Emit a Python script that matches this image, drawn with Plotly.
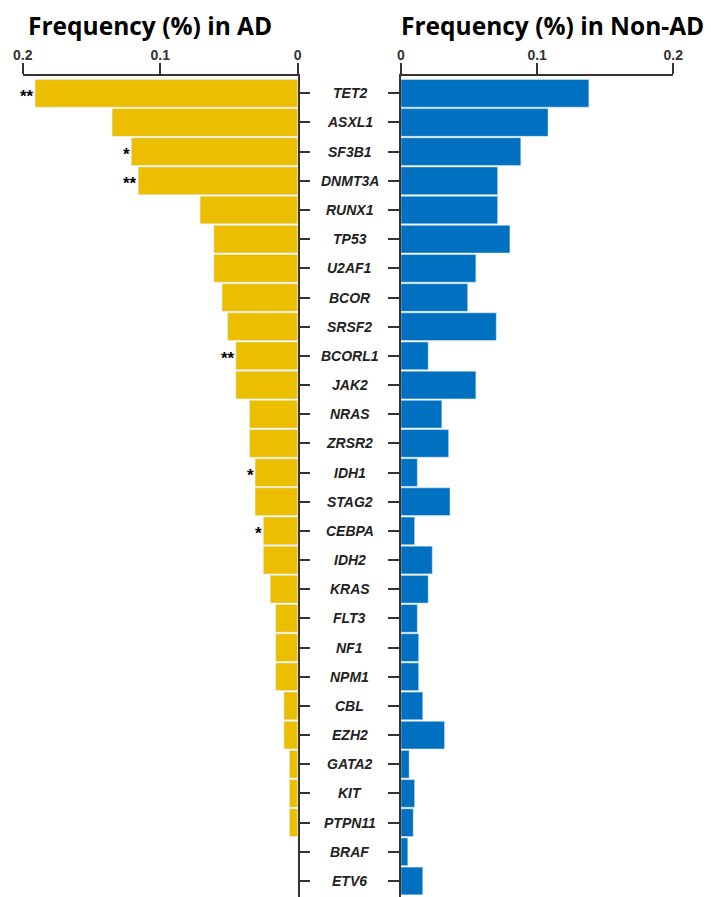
import plotly.graph_objects as go

# Genes, top to bottom
genes = ["TET2", "ASXL1", "SF3B1", "DNMT3A", "RUNX1", "TP53", "U2AF1", "BCOR",
         "SRSF2", "BCORL1", "JAK2", "NRAS", "ZRSR2", "IDH1", "STAG2", "CEBPA",
         "IDH2", "KRAS", "FLT3", "NF1", "NPM1", "CBL", "EZH2", "GATA2", "KIT",
         "PTPN11", "BRAF", "ETV6"]

# Mutation frequency in AD cases
freq_ad = [0.191, 0.135, 0.121, 0.116, 0.071, 0.061, 0.061, 0.055,
           0.051, 0.045, 0.045, 0.035, 0.035, 0.031, 0.031, 0.025,
           0.025, 0.020, 0.016, 0.016, 0.016, 0.010, 0.010, 0.006, 0.006,
           0.006, 0.0, 0.0]

# Mutation frequency in non-AD cases
freq_non_ad = [0.138, 0.108, 0.088, 0.071, 0.071, 0.080, 0.055, 0.049,
               0.070, 0.020, 0.055, 0.030, 0.035, 0.012, 0.036, 0.010,
               0.023, 0.020, 0.012, 0.013, 0.013, 0.016, 0.032, 0.006, 0.010,
               0.009, 0.005, 0.016]

# Significance marks shown beside AD bars
sig_marks = {"TET2": "**", "SF3B1": "*", "DNMT3A": "**", "BCORL1": "**",
             "IDH1": "*", "CEBPA": "*"}

axis_ticks = [0, 0.1, 0.2]
axis_ticktext = ["0", "0.1", "0.2"]

YELLOW = "#EBBE00"
BLUE = "#0070C0"
AXIS = "#333333"

W, H = 711, 897
TOP = 76

fig = go.Figure()
fig.add_trace(go.Bar(x=freq_ad, y=genes, orientation="h", marker_color=YELLOW,
                     xaxis="x", yaxis="y", showlegend=False))
fig.add_trace(go.Bar(x=freq_non_ad, y=genes, orientation="h", marker_color=BLUE,
                     xaxis="x2", yaxis="y2", showlegend=False))

common_x = dict(side="top", tickmode="array", tickvals=axis_ticks,
                ticktext=["<b>" + t + "</b>" for t in axis_ticktext],
                ticks="outside", ticklen=11, ticklabelstandoff=-2,
                tickwidth=1.5, tickcolor=AXIS, showline=True, linecolor=AXIS,
                linewidth=1.5, showgrid=False, zeroline=False, automargin=False,
                tickfont=dict(family="Arial", size=14, color=AXIS))
common_y = dict(type="category", categoryorder="array", categoryarray=genes,
                range=[27.55, -0.593], tickmode="array", tickvals=genes,
                ticks="outside", ticklen=11, tickwidth=1.5, tickcolor=AXIS,
                showticklabels=False, showline=True, linecolor=AXIS,
                linewidth=1.5, showgrid=False, zeroline=False, automargin=False)

fig.update_layout(
    width=W, height=H, autosize=False,
    margin=dict(l=0, r=0, t=TOP, b=0, pad=0, autoexpand=False),
    paper_bgcolor="white", plot_bgcolor="white",
    bargap=0.05,
    xaxis=dict(domain=[22.7 / W, 297.7 / W], range=[0.2, 0], anchor="y", **common_x),
    xaxis2=dict(domain=[401 / W, 673.3 / W], range=[0, 0.2], anchor="y2", **common_x),
    yaxis=dict(domain=[0, 1], anchor="x", side="right", **common_y),
    yaxis2=dict(domain=[0, 1], anchor="x2", side="left", matches="y", **common_y),
)

plot_h = H - TOP
annotations = []
# Panel titles
annotations.append(dict(text="<b>Frequency (%) in AD</b>", xref="paper", yref="paper",
                        x=26 / W, y=1 + (TOP - 25) / plot_h, xanchor="left",
                        yanchor="middle", showarrow=False,
                        font=dict(family="Open Sans", size=24.5, color="black")))
annotations.append(dict(text="<b>Frequency (%) in Non-AD</b>", xref="paper", yref="paper",
                        x=399 / W, y=1 + (TOP - 25) / plot_h, xanchor="left",
                        yanchor="middle", showarrow=False,
                        font=dict(family="Open Sans", size=24.5, color="black")))
# Gene names between the panels
for g in genes:
    annotations.append(dict(text="<b><i>" + g + "</i></b>", xref="paper", yref="y",
                            x=349.5 / W, y=g, xanchor="center", yanchor="middle",
                            showarrow=False,
                            font=dict(family="Arial", size=14, color="#222222")))
# Significance marks at the end of AD bars
for g, v in zip(genes, freq_ad):
    if g in sig_marks:
        annotations.append(dict(text="<b>" + sig_marks[g] + "</b>", xref="x", yref="y",
                                x=v, y=g, xanchor="right", yanchor="middle",
                                showarrow=False, yshift=-3, xshift=1,
                                font=dict(family="Arial", size=17, color="black")))
fig.update_layout(annotations=annotations)

fig.write_html("out.html")
